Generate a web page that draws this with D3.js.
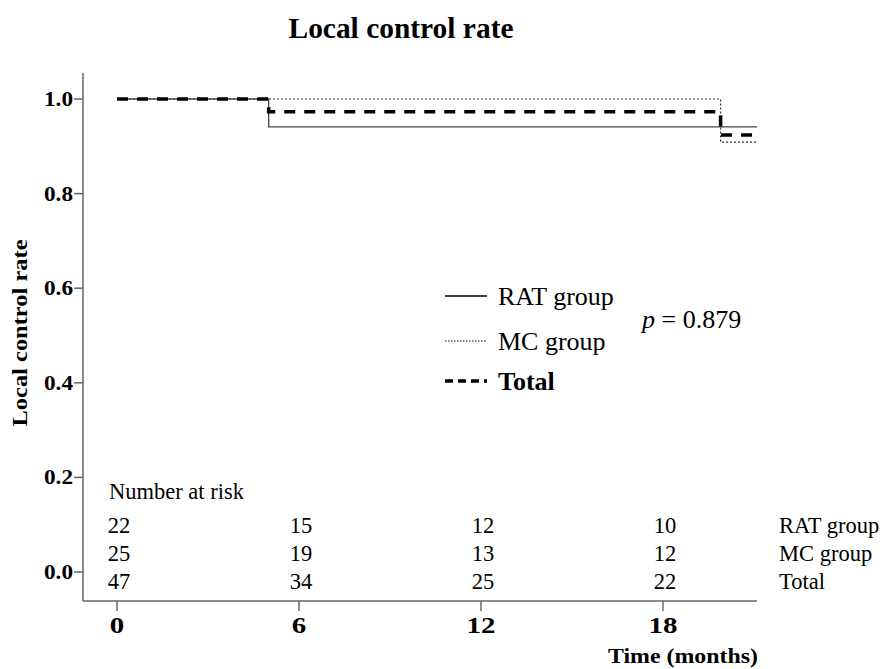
<!DOCTYPE html>
<html>
<head>
<meta charset="utf-8">
<script src="https://cdn.jsdelivr.net/npm/d3@7"></script>
<style>
  body { margin: 0; background: #fff; }
  text { font-family: "Liberation Serif", "Times New Roman", serif; fill: #000; }
</style>
</head>
<body>
<div id="vis"></div>
<script>
// survival curves (time in months, local control rate)
var ratTimes = [0, 5, 21.1];
var ratRates = [1.0, 0.941, 0.941];
var mcTimes = [0, 19.9, 21.1];
var mcRates = [1.0, 0.909, 0.909];
var totalTimes = [0, 5, 19.9, 21.1];
var totalRates = [1.0, 0.973, 0.924, 0.924];

// number at risk table
var riskTimes = [0, 6, 12, 18];
var riskRat = [22, 15, 12, 10];
var riskMc = [25, 19, 13, 12];
var riskTotal = [47, 34, 25, 22];
var riskLabels = ['RAT group', 'MC group', 'Total'];

var xTicks = [0, 6, 12, 18];
var yTicks = [0, 0.2, 0.4, 0.6, 0.8, 1.0];

var width = 885, height = 669;

var svg = d3.select('#vis').append('svg')
  .attr('width', width)
  .attr('height', height);

// scales
var x = d3.scaleLinear().domain([0, 21.1]).range([117, 757]);
var y = d3.scaleLinear().domain([0, 1]).range([572, 99]);

// title
svg.append('text')
  .attr('x', 401).attr('y', 38)
  .attr('text-anchor', 'middle')
  .attr('textLength', 225).attr('lengthAdjust', 'spacingAndGlyphs')
  .style('font-size', '29px').style('font-weight', 'bold')
  .text('Local control rate');

// y axis
var axisColor = '#666';
svg.append('line')
  .attr('x1', 83).attr('x2', 83)
  .attr('y1', 73).attr('y2', 601)
  .attr('stroke', axisColor).attr('stroke-width', 1.5);

var yt = svg.append('g').selectAll('g').data(yTicks).enter().append('g');
yt.append('line')
  .attr('x1', 74).attr('x2', 83)
  .attr('y1', function(d){ return y(d); })
  .attr('y2', function(d){ return y(d); })
  .attr('stroke', axisColor).attr('stroke-width', 1.5);
yt.append('text')
  .attr('x', 73)
  .attr('y', function(d){ return y(d) + 7; })
  .attr('text-anchor', 'end')
  .attr('textLength', 29).attr('lengthAdjust', 'spacingAndGlyphs')
  .style('font-size', '21px').style('font-weight', 'bold')
  .text(function(d){ return d.toFixed(1); });

svg.append('text')
  .attr('transform', 'translate(27,333) rotate(-90)')
  .attr('text-anchor', 'middle')
  .attr('textLength', 187).attr('lengthAdjust', 'spacingAndGlyphs')
  .style('font-size', '21px').style('font-weight', 'bold')
  .text('Local control rate');

// x axis
svg.append('line')
  .attr('x1', 83).attr('x2', 757)
  .attr('y1', 601).attr('y2', 601)
  .attr('stroke', axisColor).attr('stroke-width', 1.5);

var xt = svg.append('g').selectAll('g').data(xTicks).enter().append('g');
xt.append('line')
  .attr('x1', function(d){ return x(d); })
  .attr('x2', function(d){ return x(d); })
  .attr('y1', 601).attr('y2', 611)
  .attr('stroke', axisColor).attr('stroke-width', 1.5);
xt.append('text')
  .attr('x', function(d){ return x(d); })
  .attr('y', 633)
  .attr('text-anchor', 'middle')
  .attr('textLength', function(d){ return 14.5 * String(d).length; })
  .attr('lengthAdjust', 'spacingAndGlyphs')
  .style('font-size', '23px').style('font-weight', 'bold')
  .text(function(d){ return d; });

svg.append('text')
  .attr('x', 683).attr('y', 663)
  .attr('text-anchor', 'middle')
  .attr('textLength', 150).attr('lengthAdjust', 'spacingAndGlyphs')
  .style('font-size', '21px').style('font-weight', 'bold')
  .text('Time (months)');

// step curves
var step = d3.line()
  .x(function(d){ return x(d[0]); })
  .y(function(d){ return y(d[1]); })
  .curve(d3.curveStepAfter);

function pairs(t, r) { return t.map(function(v, i){ return [v, r[i]]; }); }

svg.append('path')
  .datum(pairs(mcTimes, mcRates))
  .attr('d', step)
  .attr('fill', 'none').attr('stroke', '#333')
  .attr('stroke-width', 1.2).attr('stroke-dasharray', '2,2');

svg.append('path')
  .datum(pairs(ratTimes, ratRates))
  .attr('d', step)
  .attr('fill', 'none').attr('stroke', '#444')
  .attr('stroke-width', 1.3);

svg.append('path')
  .datum(pairs(totalTimes, totalRates))
  .attr('d', step)
  .attr('fill', 'none').attr('stroke', '#000')
  .attr('stroke-width', 3.5).attr('stroke-dasharray', '11,9');

// legend
var legend = [
  { label: 'RAT group', y: 296, dash: null, w: 1.3, bold: false },
  { label: 'MC group', y: 341, dash: '1.5,1.5', w: 1.2, bold: false },
  { label: 'Total', y: 381, dash: '8,5', w: 3.5, bold: true }
];
var lg = svg.append('g').selectAll('g').data(legend).enter().append('g');
lg.append('line')
  .attr('x1', 445).attr('x2', 487)
  .attr('y1', function(d){ return d.y; })
  .attr('y2', function(d){ return d.y; })
  .attr('stroke', '#000')
  .attr('stroke-width', function(d){ return d.w; })
  .attr('stroke-dasharray', function(d){ return d.dash; });
lg.append('text')
  .attr('x', 498)
  .attr('y', function(d){ return d.y + 9; })
  .style('font-size', '26px')
  .style('font-weight', function(d){ return d.bold ? 'bold' : 'normal'; })
  .text(function(d){ return d.label; });

var pText = svg.append('text')
  .attr('x', 642).attr('y', 328)
  .style('font-size', '26px');
pText.append('tspan').style('font-style', 'italic').text('p');
pText.append('tspan').text(' = 0.879');

// number at risk
svg.append('text')
  .attr('x', 109).attr('y', 499)
  .style('font-size', '22.5px')
  .text('Number at risk');

var rows = [riskRat, riskMc, riskTotal];
var rowY = [533, 561, 589];
rows.forEach(function(row, i) {
  svg.append('g').selectAll('text').data(row).enter().append('text')
    .attr('x', function(d, j){ return x(riskTimes[j]) + 2; })
    .attr('y', rowY[i])
    .attr('text-anchor', 'middle')
    .style('font-size', '22.5px')
    .text(function(d){ return d; });
  svg.append('text')
    .attr('x', 779).attr('y', rowY[i])
    .style('font-size', '22.5px')
    .text(riskLabels[i]);
});
</script>
</body>
</html>
